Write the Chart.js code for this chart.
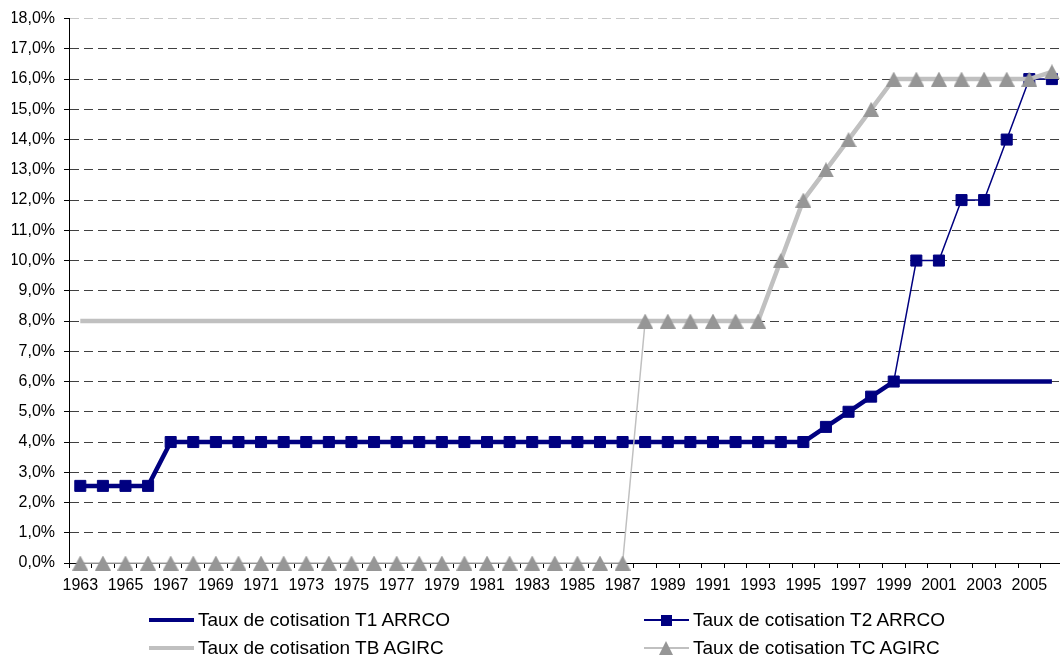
<!DOCTYPE html>
<html>
<head>
<meta charset="utf-8">
<script src="https://cdn.jsdelivr.net/npm/chart.js@4.4.1/dist/chart.umd.min.js"></script>
<style>
  html, body { margin: 0; padding: 0; background: #fff; overflow: hidden; width: 1060px; height: 659px; }
  #wrap { position: absolute; left: 0; top: 0; width: 1072px; height: 600px; }
  #legend { position: absolute; left: 0; top: 0; width: 1060px; height: 659px; pointer-events: none;
            font-family: "Liberation Sans", Arial, sans-serif; font-size: 19px; color: #000; }
  .item { position: absolute; height: 24px; width: 330px; }
  .line { position: absolute; left: 0; width: 45px; }
  .mark { position: absolute; }
  .txt { position: absolute; left: 49px; top: 0; line-height: 24px; white-space: nowrap; }
</style>
</head>
<body>
<div id="wrap"><canvas id="c"></canvas></div>
<div id="legend"></div>
<script>
// ---- data ----
const years = [1963, 1964, 1965, 1966, 1967, 1968, 1969, 1970, 1971, 1972, 1973, 1974, 1975, 1976, 1977,
  1978, 1979, 1980, 1981, 1982, 1983, 1984, 1985, 1986, 1987, 1988, 1989, 1990, 1991, 1992, 1993, 1994,
  1995, 1996, 1997, 1998, 1999, 2000, 2001, 2002, 2003, 2004, 2005, 2006];

const seriesNames = ['Taux de cotisation T1 ARRCO', 'Taux de cotisation T2 ARRCO',
  'Taux de cotisation TB AGIRC', 'Taux de cotisation TC AGIRC'];

const t1Arrco = [2.55, 2.55, 2.55, 2.55,
  4, 4, 4, 4, 4, 4, 4, 4, 4, 4, 4, 4, 4, 4, 4, 4, 4, 4, 4, 4, 4, 4, 4, 4, 4, 4, 4, 4, 4,
  4.5, 5, 5.5, 6, 6, 6, 6, 6, 6, 6, 6];

const t2Arrco = [2.55, 2.55, 2.55, 2.55,
  4, 4, 4, 4, 4, 4, 4, 4, 4, 4, 4, 4, 4, 4, 4, 4, 4, 4, 4, 4, 4, 4, 4, 4, 4, 4, 4, 4, 4,
  4.5, 5, 5.5, 6, 10, 10, 12, 12, 14, 16, 16];

const tbAgirc = [8, 8, 8, 8, 8, 8, 8, 8, 8, 8, 8, 8, 8, 8, 8, 8, 8, 8, 8, 8, 8, 8, 8, 8, 8, 8, 8, 8, 8, 8, 8,
  10, 12, 13, 14, 15, 16, 16, 16, 16, 16, 16, 16, 16.24];

const tcAgirc = [0, 0, 0, 0, 0, 0, 0, 0, 0, 0, 0, 0, 0, 0, 0, 0, 0, 0, 0, 0, 0, 0, 0, 0, 0,
  8, 8, 8, 8, 8, 8,
  10, 12, 13, 14, 15, 16, 16, 16, 16, 16, 16, 16, 16.24];

const yMin = 0, yMax = 18, yStep = 1;

// ---- styles ----
const NAVY = '#000080', LGREY = '#c0c0c0', MGREY = '#969696';
const FONT = '"Liberation Sans", Arial, sans-serif';
Chart.defaults.font.family = FONT;
Chart.defaults.color = '#000';

// Excel-like triangle marker (bounding box centred on the point)
function makeTriangle(w, h, color) {
  const cv = document.createElement('canvas');
  cv.width = w; cv.height = h;
  const g = cv.getContext('2d');
  g.fillStyle = color;
  g.beginPath();
  g.moveTo(w / 2, 0);
  g.lineTo(w, h);
  g.lineTo(0, h);
  g.closePath();
  g.fill();
  return cv;
}
const triMarker = makeTriangle(16, 15, MGREY);

const chart = new Chart(document.getElementById('c'), {
  type: 'line',
  data: {
    labels: years,
    datasets: [
      { label: seriesNames[0], data: t1Arrco, borderColor: NAVY, backgroundColor: NAVY, borderWidth: 4.5,
        pointRadius: 0, order: 3, clip: false, legendMark: 'none' },
      { label: seriesNames[1], data: t2Arrco, borderColor: NAVY, backgroundColor: NAVY, borderWidth: 1.5,
        pointStyle: 'rect', pointRadius: 7.8, pointBorderWidth: 1, pointBackgroundColor: NAVY,
        pointBorderColor: NAVY, order: 2, clip: false, legendMark: 'square' },
      { label: seriesNames[2], data: tbAgirc, borderColor: LGREY, backgroundColor: LGREY, borderWidth: 4.5,
        pointRadius: 0, order: 1, clip: false, legendMark: 'none' },
      { label: seriesNames[3], data: tcAgirc, borderColor: LGREY, backgroundColor: MGREY, borderWidth: 1.5,
        pointStyle: triMarker, pointRadius: 8, pointBorderWidth: 0, pointBackgroundColor: MGREY,
        pointBorderColor: MGREY, order: 0, clip: false, legendMark: 'triangle' }
    ]
  },
  options: {
    responsive: true,
    maintainAspectRatio: false,
    animation: false,
    events: [],
    layout: { padding: { left: 12, right: 7, top: 16, bottom: 0 } },
    plugins: { legend: { display: false }, tooltip: { enabled: false } },
    elements: { line: { tension: 0, borderJoinStyle: 'round', borderCapStyle: 'butt' } },
    scales: {
      x: {
        type: 'category',
        offset: true,
        grid: { offset: true, drawOnChartArea: false, drawTicks: true, tickLength: 5,
                color: '#000', tickColor: '#000', lineWidth: 1 },
        border: { display: true, color: '#000', width: 1 },
        ticks: {
          autoSkip: false, maxRotation: 0, minRotation: 0, padding: 8, color: '#000',
          font: { size: 16 },
          callback: (v, i) => (i % 2 === 0 ? String(years[i]) : '')
        },
        afterFit: (s) => { s.height = 37; }
      },
      y: {
        min: yMin, max: yMax,
        grid: {
          color: (ctx) => (ctx.tick && ctx.tick.value === yMax ? '#c8c8c8' : '#404040'),
          lineWidth: 1, drawTicks: true, tickLength: 5, tickColor: '#000'
        },
        border: { display: true, color: '#000', width: 1, dash: [9, 5] },
        ticks: {
          stepSize: yStep, padding: 9, color: '#000', font: { size: 16 },
          callback: (v) => Number(v).toFixed(1).replace('.', ',') + '%'
        },
        afterFit: (s) => { s.width = 57; }
      }
    }
  }
});

// ---- HTML legend (two columns, as in the original) ----
const legendSlots = [
  { left: 149, cy: 620 }, { left: 644, cy: 620 },
  { left: 149, cy: 648 }, { left: 644, cy: 648 }
];
const legendEl = document.getElementById('legend');
chart.data.datasets.forEach((ds, i) => {
  const slot = legendSlots[i];
  const item = document.createElement('div');
  item.className = 'item';
  item.style.left = slot.left + 'px';
  item.style.top = (slot.cy - 12) + 'px';
  const ln = document.createElement('div');
  ln.className = 'line';
  ln.style.height = ds.borderWidth + 'px';
  ln.style.top = (12 - ds.borderWidth / 2) + 'px';
  ln.style.background = ds.borderColor;
  item.appendChild(ln);
  if (ds.legendMark === 'square') {
    const m = document.createElement('div');
    m.className = 'mark';
    m.style.width = '11px'; m.style.height = '11px';
    m.style.left = '17px'; m.style.top = '6.5px';
    m.style.background = ds.pointBackgroundColor;
    item.appendChild(m);
  } else if (ds.legendMark === 'triangle') {
    const m = document.createElement('div');
    m.className = 'mark';
    m.style.width = '0'; m.style.height = '0';
    m.style.left = '15px'; m.style.top = '5px';
    m.style.borderLeft = '7.5px solid transparent';
    m.style.borderRight = '7.5px solid transparent';
    m.style.borderBottom = '14px solid ' + ds.pointBackgroundColor;
    item.appendChild(m);
  }
  const t = document.createElement('span');
  t.className = 'txt';
  t.textContent = ds.label;
  item.appendChild(t);
  legendEl.appendChild(item);
});
</script>
</body>
</html>
